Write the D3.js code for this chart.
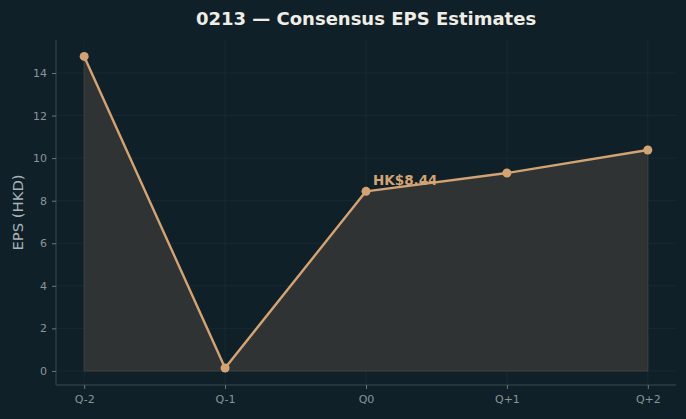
<!DOCTYPE html>
<html>
<head>
<meta charset="utf-8">
<script src="https://cdn.jsdelivr.net/npm/d3@7"></script>
<style>
  html, body { margin: 0; padding: 0; background: #0f2028; }
  svg { display: block; font-family: "DejaVu Sans", sans-serif; }
</style>
</head>
<body>
<svg id="chart"></svg>
<script>
const quarters = ["Q-2", "Q-1", "Q0", "Q+1", "Q+2"];
const eps = [14.78, 0.14, 8.44, 9.3, 10.38];
const yTicks = [0, 2, 4, 6, 8, 10, 12, 14];
const title = "0213 — Consensus EPS Estimates";
const yLabel = "EPS (HKD)";
const currentIndex = 2;

const width = 686, height = 419;
const margin = { top: 40, right: 10, bottom: 34, left: 56 };

const bg = "#0f2028";
const lineColor = "#d4a373";
const tickColor = "#8a959a";

const svg = d3.select("#chart")
  .attr("width", width)
  .attr("height", height);

svg.append("rect")
  .attr("width", width).attr("height", height)
  .attr("fill", bg);

const x = d3.scaleLinear()
  .domain([-0.2, quarters.length - 1 + 0.2])
  .range([margin.left, width - margin.right]);

const y = d3.scaleLinear()
  .domain([-0.66, 15.55])
  .range([height - margin.bottom, margin.top]);

// grid
const grid = svg.append("g").attr("stroke", "#1a2c34").attr("stroke-width", 0.8);
grid.selectAll(".gy").data(yTicks).join("line")
  .attr("x1", margin.left).attr("x2", width - margin.right)
  .attr("y1", d => y(d)).attr("y2", d => y(d));
grid.selectAll(".gx").data(quarters).join("line")
  .attr("x1", (d, i) => x(i)).attr("x2", (d, i) => x(i))
  .attr("y1", margin.top).attr("y2", height - margin.bottom);

// area
const area = d3.area()
  .x((d, i) => x(i))
  .y0(y(0))
  .y1(d => y(d));

svg.append("path")
  .datum(eps)
  .attr("d", area)
  .attr("fill", "#2f3333")
  .attr("stroke", "#45433f")
  .attr("stroke-width", 1);

// line
const line = d3.line()
  .x((d, i) => x(i))
  .y(d => y(d));

svg.append("path")
  .datum(eps)
  .attr("d", line)
  .attr("fill", "none")
  .attr("stroke", lineColor)
  .attr("stroke-width", 2.4)
  .attr("stroke-linejoin", "round");

svg.selectAll(".dot")
  .data(eps)
  .join("circle")
  .attr("cx", (d, i) => x(i))
  .attr("cy", d => y(d))
  .attr("r", 4.5)
  .attr("fill", lineColor);

// annotation
svg.append("text")
  .attr("x", x(currentIndex) + 7)
  .attr("y", y(eps[currentIndex]) - 6)
  .attr("fill", lineColor)
  .attr("font-size", 13.5)
  .attr("font-weight", "bold")
  .text("HK$" + eps[currentIndex].toFixed(2));

// axes
const yAxis = d3.axisLeft(y).tickValues(yTicks).tickSize(4).tickPadding(5);
const xAxis = d3.axisBottom(x)
  .tickValues(d3.range(quarters.length))
  .tickFormat(i => quarters[i])
  .tickSize(4).tickPadding(6);

const styleAxis = g => {
  g.select(".domain").attr("stroke", "#3c4a50");
  g.selectAll(".tick line").attr("stroke", "#6d787d");
  g.selectAll(".tick text").attr("fill", tickColor).attr("font-size", 11)
    .attr("font-family", "DejaVu Sans, sans-serif");
};

svg.append("g")
  .attr("transform", `translate(${margin.left},0)`)
  .call(yAxis)
  .call(g => g.select(".domain").attr("d", `M0,${margin.top}V${height - margin.bottom}`))
  .call(styleAxis);

svg.append("g")
  .attr("transform", `translate(0,${height - margin.bottom})`)
  .call(xAxis)
  .call(g => g.select(".domain").attr("d", `M${margin.left},0H${width - margin.right}`))
  .call(styleAxis);

svg.append("text")
  .attr("transform", `translate(23,${(margin.top + height - margin.bottom) / 2}) rotate(-90)`)
  .attr("text-anchor", "middle")
  .attr("fill", "#aab4b8")
  .attr("font-size", 14.8)
  .text(yLabel);

svg.append("text")
  .attr("x", (margin.left + width - margin.right) / 2)
  .attr("y", 25)
  .attr("text-anchor", "middle")
  .attr("fill", "#f0ede6")
  .attr("font-size", 18)
  .attr("font-weight", "bold")
  .text(title);
</script>
</body>
</html>
